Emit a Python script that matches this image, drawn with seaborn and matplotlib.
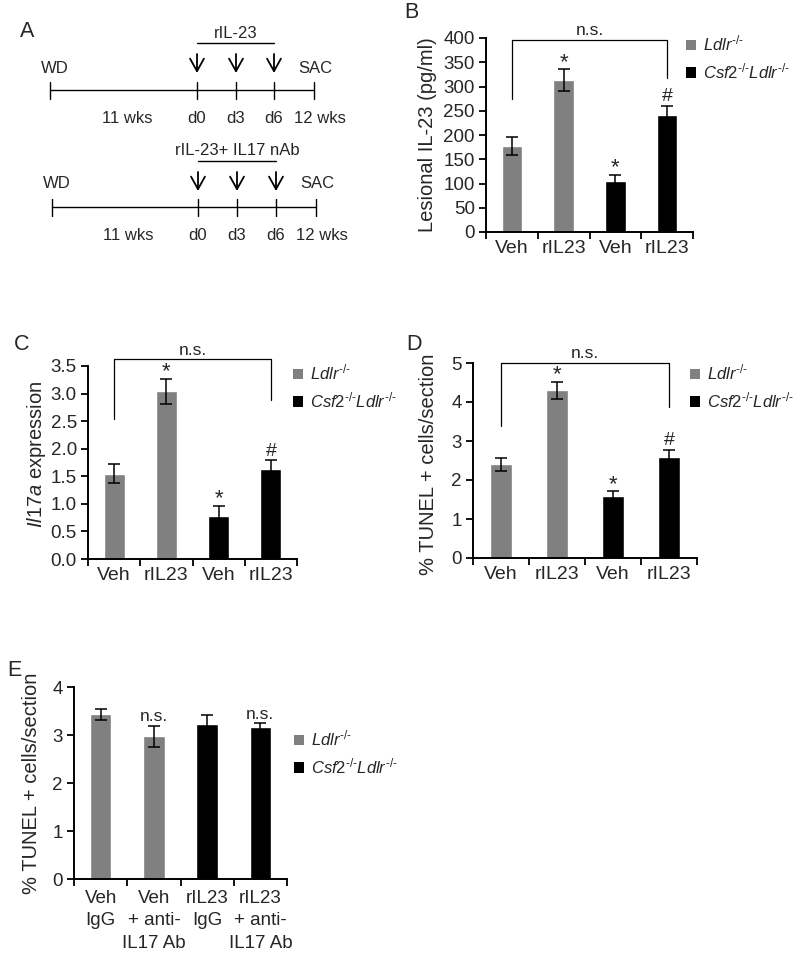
import numpy as np
import pandas as pd
import matplotlib
matplotlib.use("Agg")
import matplotlib.pyplot as plt
import seaborn as sns
from matplotlib.patches import Patch

sns.set_style("ticks")
plt.rcParams['font.family'] = ['Liberation Sans', 'DejaVu Sans']
plt.rcParams['mathtext.fontset'] = 'custom'
plt.rcParams['mathtext.rm'] = 'Liberation Sans'
plt.rcParams['mathtext.it'] = 'Liberation Sans:italic'
plt.rcParams['mathtext.bf'] = 'Liberation Sans:bold'

# ---------------- data ----------------
genotype_names = ["Ldlr", "Csf2Ldlr"]
genotype_labels = [r"$\mathit{Ldlr}^{\mathit{\text{-/-}}}$",
                   r"$\mathit{Csf2}^{\text{-/-}}\mathit{Ldlr}^{\text{-/-}}$"]
genotype = ["Ldlr", "Ldlr", "Csf2Ldlr", "Csf2Ldlr"]

treat_labels = ["Veh", "rIL23", "Veh", "rIL23"]

il23_mean = [178, 313, 105, 242]
il23_err = [18.5, 22.5, 12.4, 18.6]
il23_marks = ["", "*", "*", "#"]

il17a_mean = [1.55, 3.04, 0.78, 1.64]
il17a_err = [0.18, 0.23, 0.18, 0.15]
il17a_marks = ["", "*", "*", "#"]

tunel_mean = [2.40, 4.30, 1.60, 2.60]
tunel_err = [0.17, 0.22, 0.11, 0.18]
tunel_marks = ["", "*", "*", "#"]

e_labels = ["Veh\nIgG", "Veh\n+ anti-\nIL17 Ab", "rIL23\nIgG", "rIL23\n+ anti-\nIL17 Ab"]
e_mean = [3.43, 2.97, 3.22, 3.17]
e_err = [0.11, 0.21, 0.19, 0.07]
e_marks = ["", "n.s.", "", "n.s."]

# schematic text
timeline_top_labels = ["WD", "SAC"]
timeline_bottom_labels = ["11 wks", "d0", "d3", "d6", "12 wks"]
treatment_titles = ["rIL-23", "rIL-23+ IL17 nAb"]

palette = {"Ldlr": "#808080", "Csf2Ldlr": "#000000"}

W, H = 800, 956
fig = plt.figure(figsize=(W / 100, H / 100), dpi=100)

# ---------- overlay axes in pixel coordinates (panel A + letters) ----------
ov = fig.add_axes([0, 0, 1, 1])
ov.set_xlim(0, W)
ov.set_ylim(H, 0)
ov.axis("off")

SFS = 12


def timeline(y_line, x_pts, y_title, y_bar, y_arrow_top, y_arrow_bot, y_top_lab, y_bot_lab, title, x_11):
    x0, xd0, xd3, xd6, xend = x_pts
    ov.plot([x0, xend], [y_line, y_line], color="black", lw=1.0)
    for x in x_pts:
        ov.plot([x, x], [y_line - 8, y_line + 9], color="black", lw=1.0)
    for x in (xd0, xd3, xd6):
        ov.annotate("", xy=(x, y_arrow_bot), xytext=(x, y_arrow_top),
                    arrowprops=dict(arrowstyle="->,head_length=0.45,head_width=0.25",
                                    lw=1.3, color="black",
                                    mutation_scale=20, shrinkA=0, shrinkB=0))
    ov.plot([xd0, xd6], [y_bar, y_bar], color="black", lw=1.0)
    ov.text((xd0 + xd6) / 2, y_title, title, ha="center", va="center", fontsize=SFS)
    ov.text(x0 + 5, y_top_lab, timeline_top_labels[0], ha="center", va="center", fontsize=SFS)
    ov.text(xend + 1, y_top_lab, timeline_top_labels[1], ha="center", va="center", fontsize=SFS)
    xs = [x_11, xd0, xd3, xd6, xend + 6]
    for x, lab in zip(xs, timeline_bottom_labels):
        ov.text(x, y_bot_lab, lab, ha="center", va="center", fontsize=SFS)


timeline(90, [50, 197, 236, 274, 314], 33, 43, 54, 73, 68, 118, treatment_titles[0], 127)
timeline(207, [52, 198, 237, 276, 316], 150, 161, 172, 191, 183, 235, treatment_titles[1], 128)

letters = [("A", 20, 31), ("B", 404, 12), ("C", 14, 345), ("D", 406, 345), ("E", 7, 670)]
for t, x, y in letters:
    ov.text(x, y, t, ha="left", va="center", fontsize=15.5)


def px_axes(x0, x1, y0, y1):
    return fig.add_axes([x0 / W, 1 - y1 / H, (x1 - x0) / W, (y1 - y0) / H])


MARK_OFF = {"*": 1.0, "#": 3.0, "n.s.": 3.5}
MARK_FS = {"*": 16, "#": 14, "n.s.": 12.5}


def bar_panel(ax, means, errs, ticklabels, ymax, yticks, ylabel, label_xy, marks,
              legend_xy, xfs=14):
    df = pd.DataFrame({"pos": list(range(len(means))), "val": means, "geno": genotype})
    sns.barplot(data=df, x="pos", y="val", hue="geno", palette=palette, dodge=False,
                width=0.4, saturation=1, ax=ax, legend=False, errorbar=None,
                hue_order=genotype_names)
    ax.errorbar(x=list(range(len(means))), y=means, yerr=errs, fmt="none",
                ecolor="black", elinewidth=1.1, capsize=4.2, capthick=1.1, zorder=5)
    ax.set_xlim(-0.5, len(means) - 0.5)
    ax.set_ylim(0, ymax)
    ax.set_yticks(yticks)
    ax.set_xticks(list(range(len(means))))
    ax.set_xticklabels(ticklabels)
    ax.set_xticks([i - 0.5 for i in range(len(means) + 1)], minor=True)
    ax.tick_params(axis="x", which="major", length=0, pad=6, labelsize=xfs)
    ax.tick_params(axis="x", which="minor", length=5, width=1.3, direction="out", color="black")
    ax.tick_params(axis="y", which="major", length=5, width=1.3, direction="out",
                   labelsize=13.5, pad=3, color="black")
    for s in ["top", "right"]:
        ax.spines[s].set_visible(False)
    for s in ["left", "bottom"]:
        ax.spines[s].set_linewidth(1.4)
        ax.spines[s].set_color("black")
    ax.set_xlabel("")
    ax.set_ylabel(ylabel, fontsize=14.5)
    ax.yaxis.set_label_coords(*label_xy)
    for i, m in enumerate(marks):
        if m:
            ax.annotate(m, xy=(i, means[i] + errs[i]), xytext=(0, MARK_OFF[m]),
                        textcoords="offset points", ha="center", va="baseline",
                        fontsize=MARK_FS[m])
    handles = [Patch(facecolor=palette[g], edgecolor="none") for g in genotype_names]
    ax.legend(handles, genotype_labels, loc="upper left",
              bbox_to_anchor=(legend_xy[0] / W, 1 - legend_xy[1] / H),
              bbox_transform=fig.transFigure, frameon=False, fontsize=12,
              handlelength=0.6, handleheight=0.6, handletextpad=0.4,
              labelspacing=0.45, borderpad=0, borderaxespad=0)


def bracket(ax, yl, yr, ytop):
    ax.plot([0, 0, 3, 3], [yl, ytop, ytop, yr], color="black", lw=0.9, clip_on=False)
    ax.annotate("n.s.", xy=(1.5, ytop), xytext=(0, 3.5), textcoords="offset points",
                ha="center", va="baseline", fontsize=12.5, annotation_clip=False)


# ---------- B ----------
axB = px_axes(486, 693, 38, 232)
bar_panel(axB, il23_mean, il23_err, treat_labels, 400, list(range(0, 401, 50)),
          "Lesional IL-23 (pg/ml)", (-0.237, 0.5), il23_marks, (686, 34))
bracket(axB, 274, 317, 396.5)

# ---------- C ----------
axC = px_axes(88, 297, 366, 559)
bar_panel(axC, il17a_mean, il17a_err, treat_labels, 3.5, np.arange(0, 3.51, 0.5),
          r"$\mathit{Il17a}$ expression", (-0.19, 0.54), il17a_marks, (293, 363))
axC.set_yticklabels([f"{v:.1f}" for v in np.arange(0, 3.51, 0.5)])
bracket(axC, 2.53, 2.88, 3.62)

# ---------- D ----------
axD = px_axes(473, 697, 363, 558)
bar_panel(axD, tunel_mean, tunel_err, treat_labels, 5, list(range(0, 6)),
          "% TUNEL + cells/section", (-0.156, 0.48), tunel_marks, (690, 363))
bracket(axD, 3.38, 3.87, 5.0)

# ---------- E ----------
axE = px_axes(74, 287, 687, 879)
bar_panel(axE, e_mean, e_err, e_labels, 4, list(range(0, 5)),
          "% TUNEL + cells/section", (-0.156, 0.5), e_marks, (294, 729), xfs=13.5)
axE.tick_params(axis="x", which="major", pad=8)
for lab in axE.get_xticklabels():
    lab.set_linespacing(1.4)

fig.savefig("out.png", dpi=100)
